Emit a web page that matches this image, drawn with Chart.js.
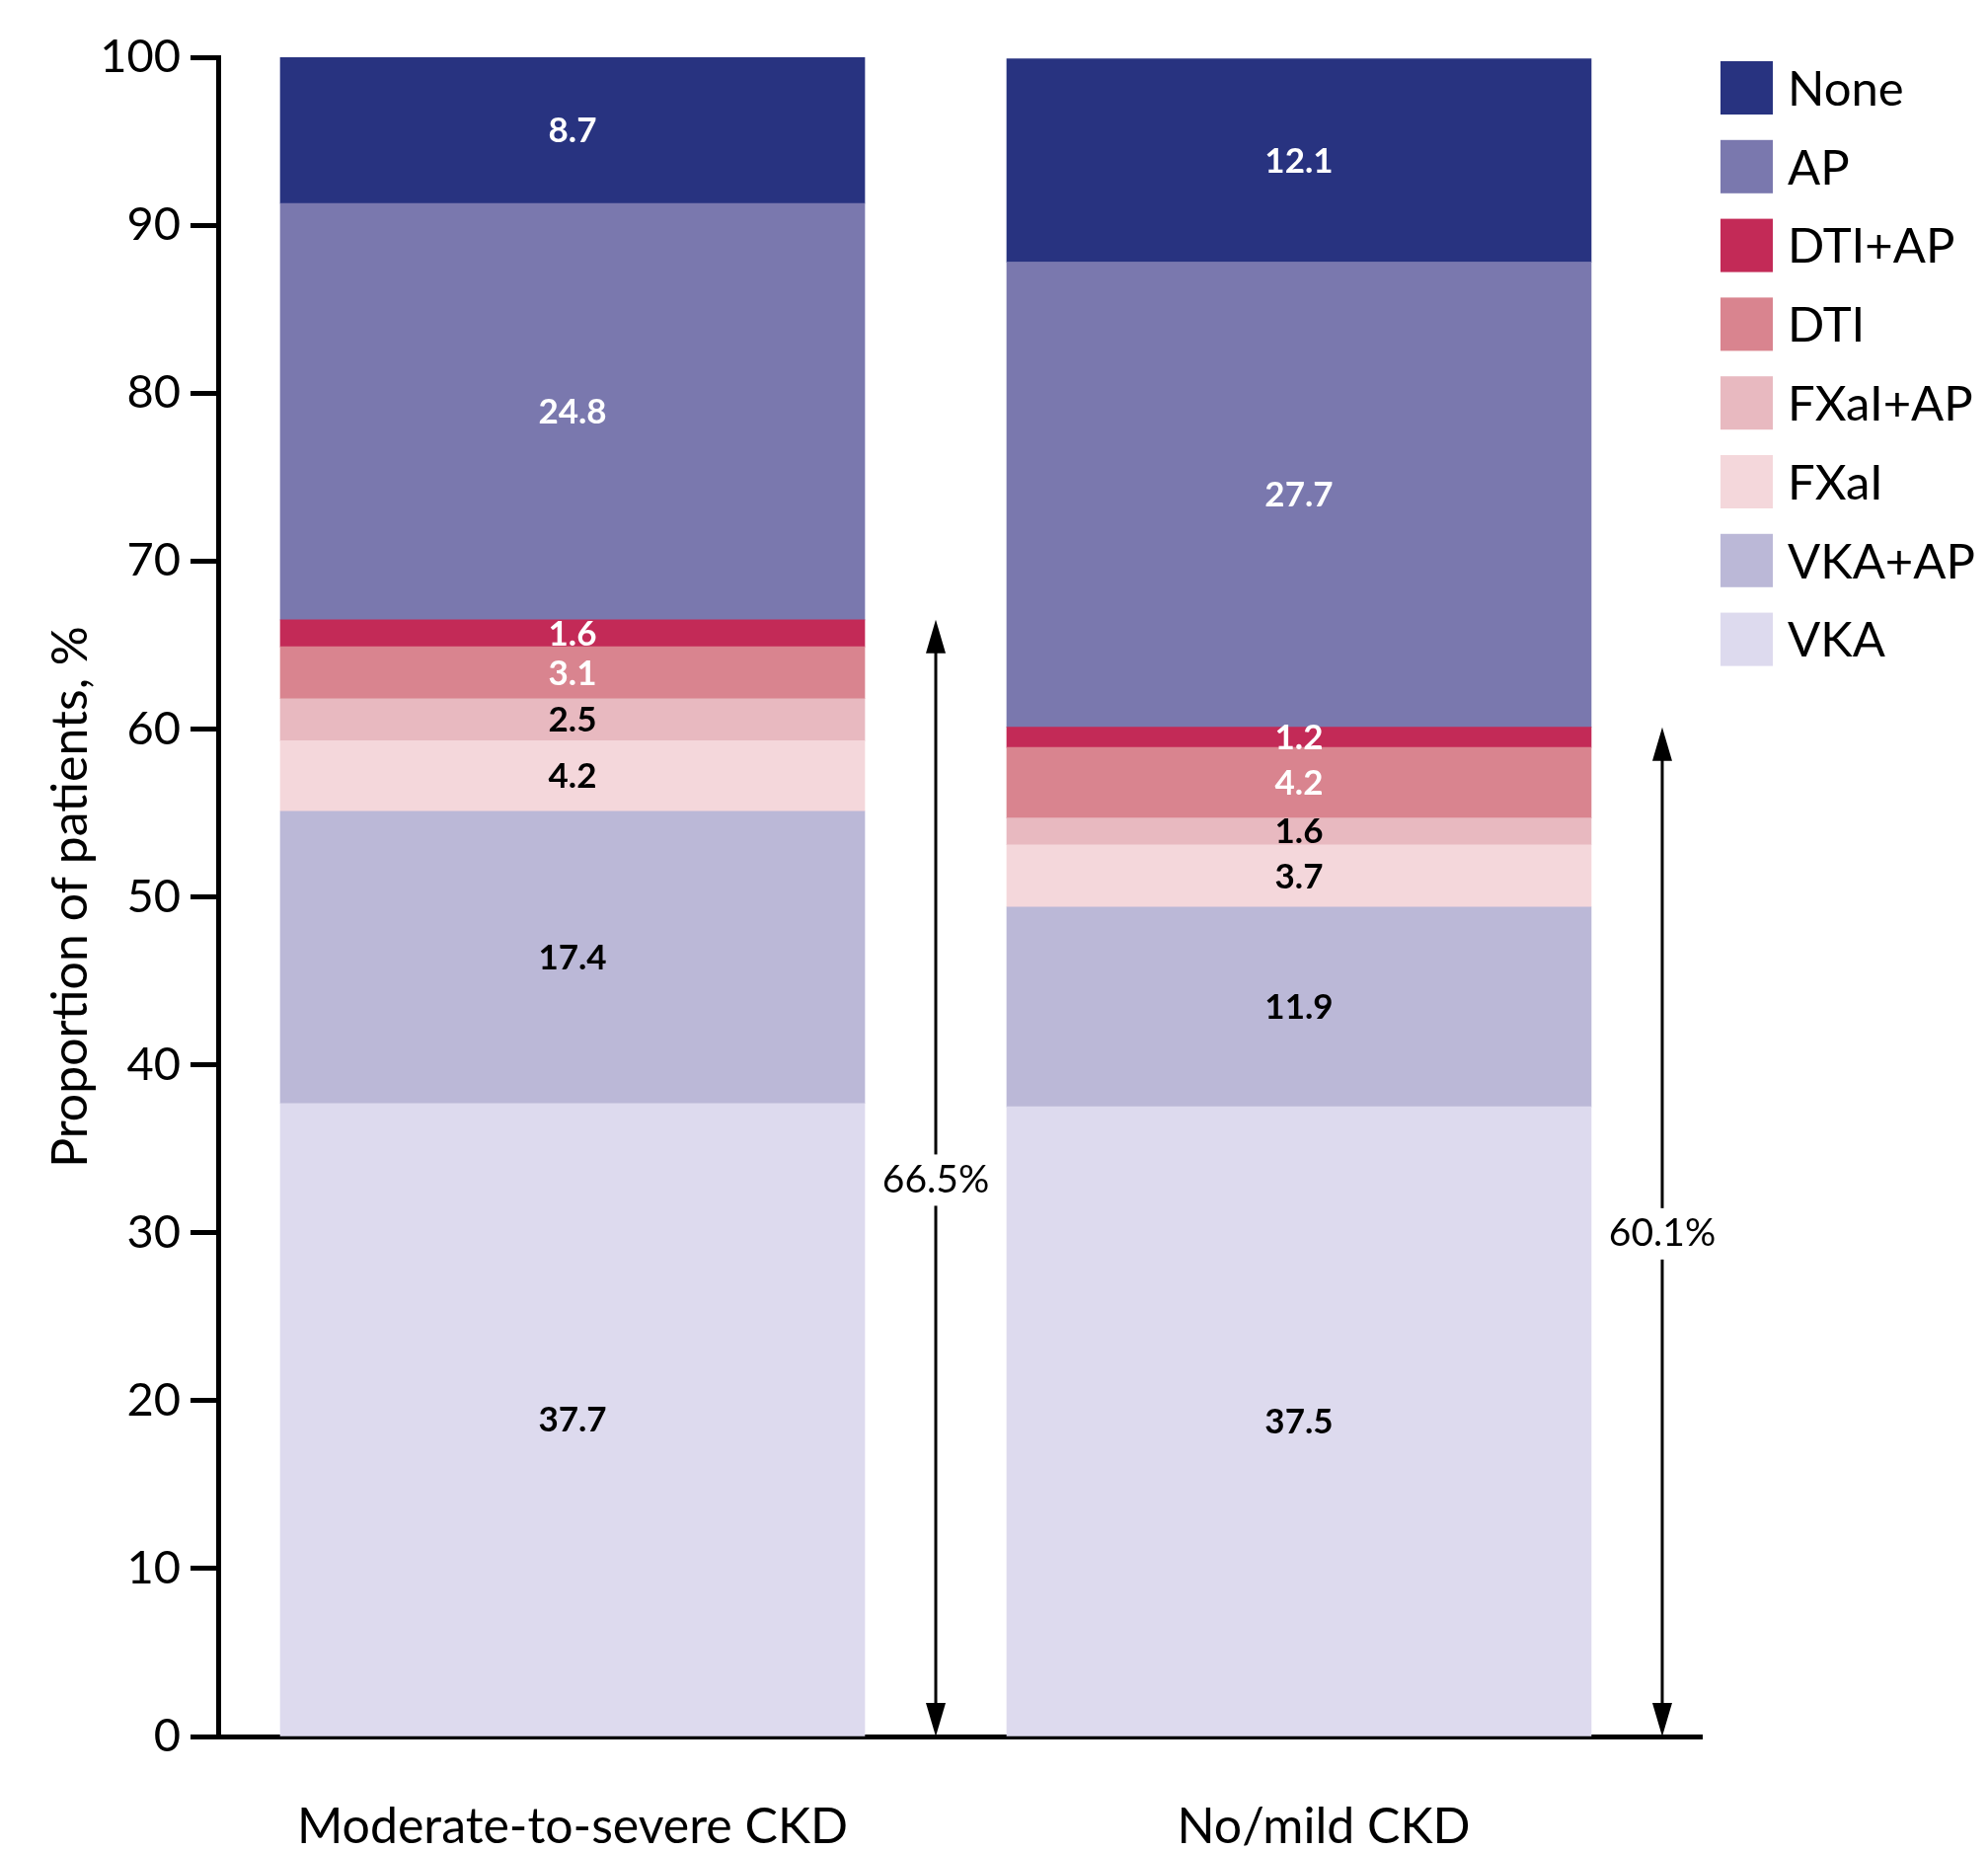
<!DOCTYPE html>
<html>
<head>
<meta charset="utf-8">
<script src="https://cdn.jsdelivr.net/npm/chart.js@4.4.1/dist/chart.umd.min.js"></script>
<style>
  html, body { margin: 0; padding: 0; background: #fff; }
</style>
</head>
<body>
<canvas id="chart" width="2014" height="1875"></canvas>
<script>
// categories and series (bottom of the stack first)
const groups = ["Moderate-to-severe CKD", "No/mild CKD"];
const seriesNames = ["VKA", "VKA+AP", "FXaI", "FXaI+AP", "DTI", "DTI+AP", "AP", "None"];

const vka = [37.7, 37.5];
const vkaAp = [17.4, 11.9];
const fxai = [4.2, 3.7];
const fxaiAp = [2.5, 1.6];
const dti = [3.1, 4.2];
const dtiAp = [1.6, 1.2];
const ap = [24.8, 27.7];
const none = [8.7, 12.1];

// totals shown by the arrows
const anticoagTotals = [66.5, 60.1];

const yTicks = [0, 10, 20, 30, 40, 50, 60, 70, 80, 90, 100];

const seriesValues = [vka, vkaAp, fxai, fxaiAp, dti, dtiAp, ap, none];
const colors = ["#dddaee", "#bbb8d7", "#f4d7db", "#e8b9c0", "#d9848f", "#c32a57", "#7a78ae", "#283380"];
const labelColors = ["#000", "#000", "#000", "#000", "#fff", "#fff", "#fff", "#fff"];

Chart.defaults.font.family = "Lato, 'Open Sans', sans-serif";
Chart.defaults.color = "#000";

// value labels in the middle of every segment
const segmentLabels = {
  id: "segmentLabels",
  afterDatasetsDraw(chart) {
    const ctx = chart.ctx;
    ctx.save();
    ctx.font = "bold 35px Lato";
    ctx.textAlign = "center";
    ctx.textBaseline = "middle";
    chart.data.datasets.forEach((ds, i) => {
      const meta = chart.getDatasetMeta(i);
      meta.data.forEach((bar, j) => {
        ctx.fillStyle = labelColors[i];
        ctx.fillText(ds.data[j].y.toFixed(1), bar.x, (bar.y + bar.base) / 2 + 1);
      });
    });
    ctx.restore();
  }
};

// double arrows with the total of anticoagulant groups
const totalArrows = {
  id: "totalArrows",
  afterDraw(chart) {
    const ctx = chart.ctx;
    const yScale = chart.scales.y;
    const meta = chart.getDatasetMeta(0);
    ctx.save();
    anticoagTotals.forEach((total, j) => {
      const bar = meta.data[j];
      const x = bar.x + bar.width / 2 + 72;
      const yTop = yScale.getPixelForValue(total);
      const yBot = yScale.getPixelForValue(0);
      const head = 34, half = 10;
      ctx.strokeStyle = "#000";
      ctx.fillStyle = "#000";
      ctx.lineWidth = 3;
      ctx.beginPath();
      ctx.moveTo(x, yTop + head - 4);
      ctx.lineTo(x, yBot - head + 4);
      ctx.stroke();
      ctx.beginPath();
      ctx.moveTo(x, yTop);
      ctx.lineTo(x - half, yTop + head);
      ctx.lineTo(x + half, yTop + head);
      ctx.closePath();
      ctx.fill();
      ctx.beginPath();
      ctx.moveTo(x, yBot);
      ctx.lineTo(x - half, yBot - head);
      ctx.lineTo(x + half, yBot - head);
      ctx.closePath();
      ctx.fill();

      const text = total.toFixed(1) + "%";
      const yMid = (yTop + yBot) / 2 + 2;
      ctx.font = "39px Lato";
      const w = ctx.measureText(text).width;
      ctx.fillStyle = "#fff";
      ctx.fillRect(x - w / 2 - 4, yMid - 26, w + 8, 52);
      ctx.fillStyle = "#000";
      ctx.textAlign = "center";
      ctx.textBaseline = "middle";
      ctx.fillText(text, x, yMid);
    });
    ctx.restore();
  }
};

// legend on the right, top item = top of the stack
const sideLegend = {
  id: "sideLegend",
  afterDraw(chart) {
    const ctx = chart.ctx;
    const boxX = 1743, boxW = 53, boxH = 54, firstMid = 89, step = 79.8;
    ctx.save();
    ctx.font = "49px Lato";
    ctx.textAlign = "left";
    ctx.textBaseline = "middle";
    const items = chart.data.datasets.slice().reverse();
    items.forEach((ds, k) => {
      const mid = firstMid + k * step;
      ctx.fillStyle = ds.backgroundColor;
      ctx.fillRect(boxX, mid - boxH / 2, boxW, boxH);
      ctx.fillStyle = "#000";
      ctx.fillText(ds.label, boxX + 68, mid + 2);
    });
    ctx.restore();
  }
};

const datasets = seriesNames.map((name, i) => ({
  label: name,
  data: seriesValues[i].map((v, j) => ({ x: j, y: v })),
  backgroundColor: colors[i],
  borderWidth: 0,
  barThickness: 592
}));

// the second category label sits a little right of its bar in the original
const labelShift = [0, 0.034];

new Chart(document.getElementById("chart"), {
  type: "bar",
  data: { datasets },
  options: {
    responsive: false,
    animation: false,
    layout: { padding: { top: 58, right: 290, left: 0, bottom: 0 } },
    plugins: { legend: { display: false }, tooltip: { enabled: false } },
    scales: {
      x: {
        type: "linear",
        stacked: true,
        offset: false,
        min: -0.4878,
        max: 1.5544,
        grid: { display: false, drawTicks: false },
        border: { display: true, width: 5, color: "#000" },
        afterBuildTicks: (s) => { s.ticks = groups.map((g, i) => ({ value: i + labelShift[i] })); },
        afterFit: (s) => { s.height = 116; },
        ticks: {
          callback: (v) => groups[Math.round(v)] ?? "",
          color: "#000",
          font: { size: 50 },
          padding: 62,
          autoSkip: false,
          maxRotation: 0
        }
      },
      y: {
        type: "linear",
        stacked: true,
        min: 0,
        max: 100,
        afterBuildTicks: (s) => { s.ticks = yTicks.map((v) => ({ value: v })); },
        afterFit: (s) => { s.width = 221; },
        grid: { drawOnChartArea: false, drawTicks: true, tickLength: 28, tickWidth: 5, tickColor: "#000" },
        border: { display: true, width: 5, color: "#000" },
        ticks: { color: "#000", font: { size: 47 }, padding: 10 },
        title: {
          display: true,
          text: "Proportion of patients, %",
          color: "#000",
          font: { size: 50 },
          padding: { top: 42, bottom: 0 }
        }
      }
    }
  },
  plugins: [segmentLabels, totalArrows, sideLegend]
});
</script>
</body>
</html>
